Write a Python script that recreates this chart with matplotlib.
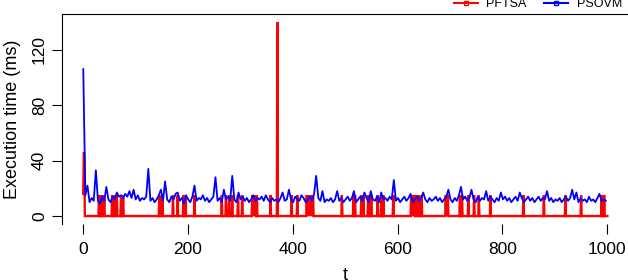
import numpy as np
import matplotlib
matplotlib.use('Agg')
import matplotlib.pyplot as plt
from matplotlib.lines import Line2D

plt.rcParams['font.family'] = ['Liberation Sans', 'DejaVu Sans']

# PFTSA: zero almost everywhere, spikes at these t
pftsa_t = [1, 2, 3, 31, 35, 39, 41, 56, 60, 65, 73, 77, 146, 152, 172, 181,
           192, 196, 213, 265, 273, 279, 285, 296, 304, 323, 325, 327, 329,
           332, 358, 371, 398, 409, 427, 429, 431, 433, 435, 437, 439, 494,
           516, 519, 531, 535, 544, 547, 550, 562, 569, 573, 592, 626, 628,
           630, 632, 635, 640, 646, 692, 694, 696, 719, 723, 735, 746, 755,
           777, 840, 879, 920, 950, 989, 994]
pftsa_v = [16, 46, 45] + [15] * 28 + [140] + [15] * 43
n_steps = 1000

# PSOVM sampled every 4th t
psovm_t = list(range(1, 1001, 4))
psovm = [
    106, 15, 22, 10, 13, 11, 33, 11, 9, 14, 11, 21, 12, 10, 14, 12, 17, 14, 15, 13, 16, 14, 18, 13, 19,
    12, 15, 11, 13, 12, 14, 34, 11, 13, 10, 12, 15, 19, 11, 25, 12, 10, 14, 12, 16, 17, 11, 13, 9, 15,
    12, 10, 14, 22, 11, 13, 12, 15, 11, 13, 10, 12, 14, 28, 11, 13, 10, 19, 12, 14, 11, 29, 12, 10, 17,
    12, 14, 11, 13, 10, 12, 15, 11, 13, 12, 14, 11, 15, 12, 10, 13, 11, 12, 10, 13, 17, 11, 12, 19, 12,
    10, 14, 12, 11, 15, 13, 10, 12, 14, 11, 16, 29, 13, 11, 18, 10, 12, 11, 13, 10, 12, 18, 11, 13, 10,
    12, 14, 11, 13, 18, 10, 12, 14, 11, 17, 13, 10, 18, 12, 11, 14, 10, 17, 12, 13, 11, 14, 12, 26, 11,
    13, 10, 12, 14, 11, 13, 16, 10, 12, 14, 11, 13, 17, 12, 10, 13, 11, 12, 14, 11, 13, 10, 12, 14, 19,
    12, 10, 13, 11, 15, 21, 12, 14, 11, 13, 19, 12, 10, 14, 11, 13, 12, 18, 11, 14, 12, 10, 13, 11, 17,
    12, 14, 11, 13, 10, 12, 14, 11, 17, 13, 10, 12, 14, 11, 13, 10, 12, 14, 11, 13, 12, 18, 11, 13, 10,
    12, 11, 13, 10, 12, 14, 11, 13, 19, 12, 17, 10, 13, 11, 12, 10, 14, 11, 12, 10, 13, 16, 11, 12, 11,
]

pftsa = np.zeros(n_steps)
pftsa[np.array(pftsa_t) - 1] = pftsa_v
t = np.arange(1, n_steps + 1)

fig = plt.figure(figsize=(6.28, 2.8), dpi=100)
ax = fig.add_axes([0.0992, 0.2007, 0.9013, 0.7482])

ax.plot(t, pftsa, color='#ff0000', lw=1.7, solid_joinstyle='miter')
ax.plot(psovm_t, psovm, color='#0000ff', lw=1.3)

ax.set_xlim(-38.96, 1039.96)
ax.set_ylim(-5.6, 145.6)
ax.set_xticks([0, 200, 400, 600, 800, 1000])
ax.set_yticks([0, 40, 80, 120])
ax.tick_params(axis='both', length=7, width=0.8, labelsize=12.5, direction='out')
ax.tick_params(axis='x', pad=6)
ax.tick_params(axis='y', pad=4)
for lab in ax.get_yticklabels():
    lab.set_rotation(90)
    lab.set_va('center')
ax.spines['bottom'].set_visible(False)
ax.spines['right'].set_visible(False)
ax.set_xlabel('t', fontsize=13, labelpad=7)
ax.set_ylabel('Execution time (ms)', fontsize=13, labelpad=8)

handles = [Line2D([], [], color='#ff0000', lw=1.5, marker='s', ms=3, mfc='none'),
           Line2D([], [], color='#0000ff', lw=1.5, marker='s', ms=3, mfc='none')]
fig.legend(handles, ['PFTSA', 'PSOVM'], ncol=2, loc='center left',
           bbox_to_anchor=(454 / 628, 1 - 4 / 280), frameon=False, fontsize=9,
           handlelength=1.9, handletextpad=0.7, columnspacing=1.4, borderpad=0,
           borderaxespad=0)

fig.savefig('out.png', dpi=100)
